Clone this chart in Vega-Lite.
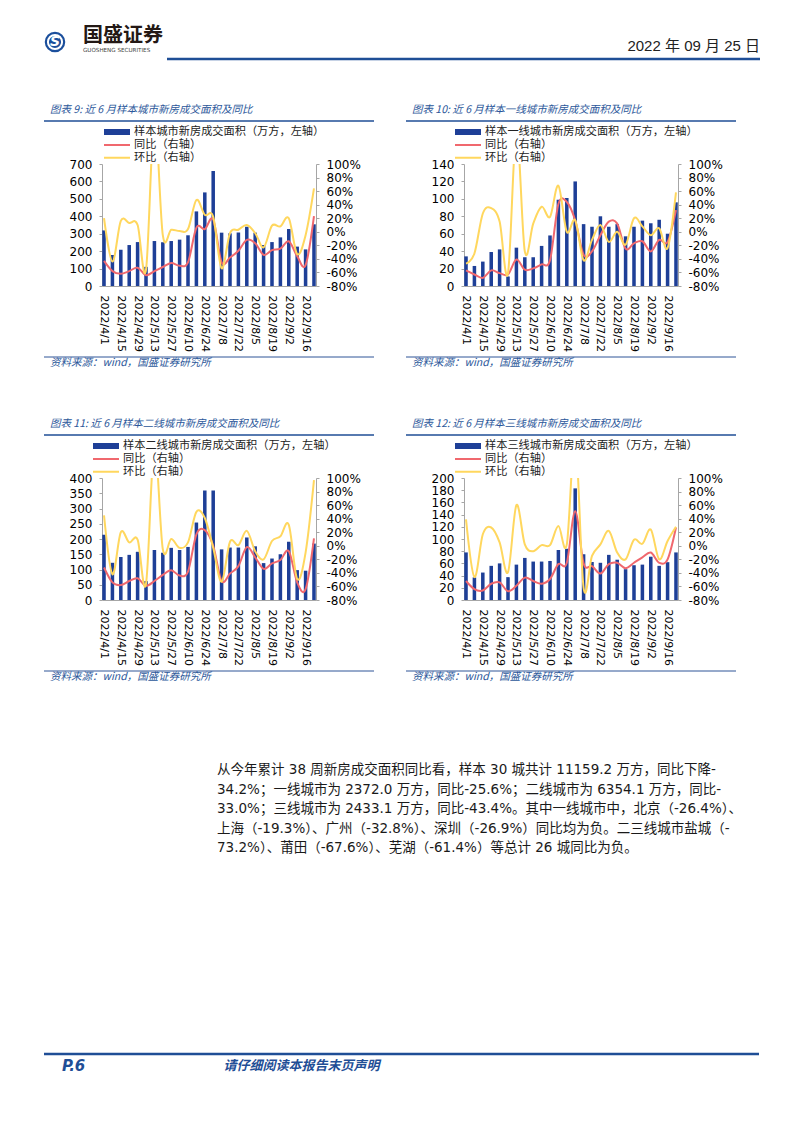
{
"$schema": "https://vega.github.io/schema/vega-lite/v6.json",
"background": "white",
"padding": {"left": 42, "top": 20, "right": 0, "bottom": 0},
"spacing": 0,
"resolve": {"scale": {"color": "independent", "stroke": "independent"}, "legend": {"color": "independent", "stroke": "independent"}},
"config": {
 "view": {"stroke": null},
 "font": "DejaVu Sans",
 "axis": {"grid": false, "domainColor": "#A6A6A6", "tickColor": "#A6A6A6", "labelColor": "#000000", "labelFont": "DejaVu Sans", "labelFontSize": 12, "tickSize": 3, "labelPadding": 7, "labelOverlap": false},
 "axisX": {"labelFontSize": 11, "labelAngle": 90, "ticks": false, "labelPadding": 9},
 "legend": {"labelFont": "Noto Sans CJK SC", "labelFontSize": 11.2, "labelColor": "#222222", "labelLimit": 400, "padding": 0, "labelOffset": 3, "clipHeight": 12},
 "title": {"font": "Noto Sans CJK SC", "fontSize": 10.5, "fontStyle": "italic", "fontWeight": "normal", "color": "#2B579A", "anchor": "start", "frame": "group"}
},
"datasets": {
 "c9": [
  {"d":"2022/4/1","area":319,"yoy":-43,"mom":20},{"d":"2022/4/8","area":178,"yoy":-58,"mom":-44},{"d":"2022/4/15","area":208,"yoy":-62,"mom":16},{"d":"2022/4/22","area":235,"yoy":-58,"mom":13},{"d":"2022/4/29","area":252,"yoy":-53,"mom":10},{"d":"2022/5/6","area":110,"yoy":-64,"mom":-56},{"d":"2022/5/13","area":258,"yoy":-58,"mom":170},{"d":"2022/5/20","area":251,"yoy":-52,"mom":-5},{"d":"2022/5/27","area":258,"yoy":-46,"mom":3},{"d":"2022/6/3","area":266,"yoy":-50,"mom":1},{"d":"2022/6/10","area":291,"yoy":-45,"mom":4},{"d":"2022/6/17","area":428,"yoy":6,"mom":47},{"d":"2022/6/24","area":537,"yoy":4,"mom":25},{"d":"2022/7/1","area":660,"yoy":18,"mom":22},{"d":"2022/7/8","area":306,"yoy":-45,"mom":-54},{"d":"2022/7/15","area":302,"yoy":-38,"mom":-2},{"d":"2022/7/22","area":307,"yoy":-28,"mom":3},{"d":"2022/7/29","area":340,"yoy":-12,"mom":10},{"d":"2022/8/5","area":306,"yoy":-17,"mom":-2},{"d":"2022/8/12","area":235,"yoy":-34,"mom":-23},{"d":"2022/8/19","area":252,"yoy":-27,"mom":9},{"d":"2022/8/26","area":279,"yoy":-25,"mom":8},{"d":"2022/9/2","area":327,"yoy":-14,"mom":20},{"d":"2022/9/9","area":226,"yoy":-36,"mom":-33},{"d":"2022/9/16","area":210,"yoy":-49,"mom":-5},{"d":"2022/9/23","area":354,"yoy":23,"mom":64}
 ],
 "c10": [
  {"d":"2022/4/1","area":34,"yoy":-57,"mom":-47},{"d":"2022/4/8","area":23,"yoy":-63,"mom":-32},{"d":"2022/4/15","area":28,"yoy":-68,"mom":27},{"d":"2022/4/22","area":39,"yoy":-57,"mom":35},{"d":"2022/4/29","area":42,"yoy":-61,"mom":15},{"d":"2022/5/6","area":11,"yoy":-63,"mom":-61},{"d":"2022/5/13","area":44,"yoy":-41,"mom":150},{"d":"2022/5/20","area":33,"yoy":-56,"mom":-29},{"d":"2022/5/27","area":33,"yoy":-54,"mom":12},{"d":"2022/6/3","area":46,"yoy":-48,"mom":37},{"d":"2022/6/10","area":58,"yoy":-42,"mom":22},{"d":"2022/6/17","area":99,"yoy":41,"mom":68},{"d":"2022/6/24","area":101,"yoy":44,"mom":0},{"d":"2022/7/1","area":120,"yoy":17,"mom":17},{"d":"2022/7/8","area":71,"yoy":-34,"mom":-42},{"d":"2022/7/15","area":68,"yoy":-29,"mom":-12},{"d":"2022/7/22","area":80,"yoy":-5,"mom":10},{"d":"2022/7/29","area":68,"yoy":15,"mom":-15},{"d":"2022/8/5","area":71,"yoy":12,"mom":0},{"d":"2022/8/12","area":57,"yoy":-25,"mom":-19},{"d":"2022/8/19","area":68,"yoy":-17,"mom":20},{"d":"2022/8/26","area":75,"yoy":-14,"mom":8},{"d":"2022/9/2","area":72,"yoy":-29,"mom":-5},{"d":"2022/9/9","area":76,"yoy":-12,"mom":5},{"d":"2022/9/16","area":60,"yoy":-15,"mom":-24},{"d":"2022/9/23","area":96,"yoy":32,"mom":58}
 ],
 "c11": [
  {"d":"2022/4/1","area":214,"yoy":-32,"mom":45},{"d":"2022/4/8","area":122,"yoy":-54,"mom":-42},{"d":"2022/4/15","area":141,"yoy":-58,"mom":20},{"d":"2022/4/22","area":148,"yoy":-52,"mom":5},{"d":"2022/4/29","area":158,"yoy":-48,"mom":9},{"d":"2022/5/6","area":62,"yoy":-59,"mom":-56},{"d":"2022/5/13","area":164,"yoy":-52,"mom":150},{"d":"2022/5/20","area":155,"yoy":-43,"mom":-5},{"d":"2022/5/27","area":171,"yoy":-36,"mom":10},{"d":"2022/6/3","area":164,"yoy":-44,"mom":-3},{"d":"2022/6/10","area":174,"yoy":-38,"mom":5},{"d":"2022/6/17","area":254,"yoy":17,"mom":50},{"d":"2022/6/24","area":359,"yoy":23,"mom":41},{"d":"2022/7/1","area":359,"yoy":0,"mom":-3},{"d":"2022/7/8","area":166,"yoy":-52,"mom":-53},{"d":"2022/7/15","area":172,"yoy":-41,"mom":6},{"d":"2022/7/22","area":172,"yoy":-30,"mom":1},{"d":"2022/7/29","area":205,"yoy":-2,"mom":22},{"d":"2022/8/5","area":176,"yoy":-17,"mom":-8},{"d":"2022/8/12","area":121,"yoy":-34,"mom":-20},{"d":"2022/8/19","area":136,"yoy":-26,"mom":7},{"d":"2022/8/26","area":150,"yoy":-21,"mom":14},{"d":"2022/9/2","area":191,"yoy":-8,"mom":31},{"d":"2022/9/9","area":98,"yoy":-54,"mom":-49},{"d":"2022/9/16","area":96,"yoy":-64,"mom":-10},{"d":"2022/9/23","area":185,"yoy":11,"mom":97}
 ],
 "c12": [
  {"d":"2022/4/1","area":78,"yoy":-52,"mom":39},{"d":"2022/4/8","area":37,"yoy":-64,"mom":-46},{"d":"2022/4/15","area":45,"yoy":-66,"mom":17},{"d":"2022/4/22","area":56,"yoy":-56,"mom":27},{"d":"2022/4/29","area":60,"yoy":-54,"mom":5},{"d":"2022/5/6","area":37.5,"yoy":-67,"mom":-39},{"d":"2022/5/13","area":58,"yoy":-59,"mom":60},{"d":"2022/5/20","area":69,"yoy":-47,"mom":2},{"d":"2022/5/27","area":63,"yoy":-52,"mom":-8},{"d":"2022/6/3","area":63,"yoy":-56,"mom":1},{"d":"2022/6/10","area":64,"yoy":-49,"mom":1},{"d":"2022/6/17","area":82,"yoy":-27,"mom":29},{"d":"2022/6/24","area":84,"yoy":-25,"mom":2},{"d":"2022/7/1","area":183,"yoy":51,"mom":160},{"d":"2022/7/8","area":75,"yoy":-26,"mom":-62},{"d":"2022/7/15","area":62.5,"yoy":-30,"mom":-15},{"d":"2022/7/22","area":61,"yoy":-41,"mom":2},{"d":"2022/7/29","area":74,"yoy":-27,"mom":22},{"d":"2022/8/5","area":66,"yoy":-25,"mom":-10},{"d":"2022/8/12","area":50.5,"yoy":-33,"mom":-20},{"d":"2022/8/19","area":57,"yoy":-25,"mom":9},{"d":"2022/8/26","area":58,"yoy":-17,"mom":3},{"d":"2022/9/2","area":71,"yoy":-10,"mom":24},{"d":"2022/9/9","area":56,"yoy":-25,"mom":-20},{"d":"2022/9/16","area":62,"yoy":-20,"mom":7},{"d":"2022/9/23","area":78,"yoy":27,"mom":28}
 ],
 "para": [
  {"line": 1, "text": "从今年累计 38 周新房成交面积同比看，样本 30 城共计 11159.2 万方，同比下降-"},
  {"line": 2, "text": "34.2%；一线城市为 2372.0 万方，同比-25.6%；二线城市为 6354.1 万方，同比-"},
  {"line": 3, "text": "33.0%；三线城市为 2433.1 万方，同比-43.4%。其中一线城市中，北京（-26.4%）、"},
  {"line": 4, "text": "上海（-19.3%）、广州（-32.8%）、深圳（-26.9%）同比均为负。二三线城市盐城（-"},
  {"line": 5, "text": "73.2%）、莆田（-67.6%）、芜湖（-61.4%）等总计 26 城同比为负。"}
 ]
},
"vconcat": [
 {"hconcat": [
   {"width": 22, "height": 44, "data": {"values": [{"k": "logo"}]},
    "layer": [
     {"mark": {"type": "point", "shape": "circle", "size": 420, "filled": true, "color": "#1B4F9C", "opacity": 1}, "encoding": {}},
     {"mark": {"type": "point", "shape": "circle", "size": 200, "filled": false, "color": "#FFFFFF", "strokeWidth": 2, "opacity": 1}, "encoding": {}},
     {"mark": {"type": "text", "text": "S", "fontSize": 14, "fontWeight": "bold", "fontStyle": "italic", "color": "#FFFFFF", "align": "center", "baseline": "middle", "font": "DejaVu Sans"}, "encoding": {}}
    ]},
   {"width": 28, "height": 36, "data": {"values": [{"k": "name"}]},
    "layer": [
     {"mark": {"type": "text", "text": "国盛证券", "align": "left", "baseline": "middle", "fontSize": 20, "dy": -2, "fontWeight": "bold", "font": "Noto Sans CJK SC", "color": "#231815"}, "encoding": {}},
     {"mark": {"type": "text", "text": "GUOSHENG SECURITIES", "align": "left", "baseline": "middle", "fontSize": 5.6, "dy": 12, "font": "DejaVu Sans", "color": "#444444"}, "encoding": {}}
    ]},
   {"width": 593, "height": 39, "data": {"values": [{"v": 0}]},
    "mark": {"type": "rule", "color": "#1F4E96", "strokeWidth": 2.5},
    "encoding": {"x": {"datum": 0, "type": "quantitative", "scale": {"domain": [0, 1]}, "axis": null}, "x2": {"datum": 1}, "y": {"field": "v", "type": "quantitative", "scale": {"domain": [0, 1]}, "axis": null}},
    "title": {"text": "2022 年 09 月 25 日", "orient": "top", "anchor": "end", "offset": -34, "fontSize": 15, "fontStyle": "normal", "color": "#222222", "font": "Liberation Sans Narrow, Liberation Sans, Noto Sans CJK SC"}}
  ], "spacing": 2},
 {"hconcat": [
   {"vconcat": [
     {"width": 330, "height": 57, "data": {"values": [{"v": 0}]},
      "mark": {"type": "rule", "color": "#1F4E96", "strokeWidth": 1.5},
      "encoding": {"x": {"datum": 0, "type": "quantitative", "scale": {"domain": [0, 1]}, "axis": null}, "x2": {"datum": 1}, "y": {"field": "v", "type": "quantitative", "scale": {"domain": [0, 1]}, "axis": null}},
      "title": {"text": "图表 9: 近 6 月样本城市新房成交面积及同比", "offset": -51, "dx": 6}},
     {"width": 214, "height": 122, "data": {"name": "c9"},
      "encoding": {"x": {"field": "d", "type": "ordinal", "sort": null, "scale": {"paddingInner": 0.58, "paddingOuter": 0.03}, "axis": {"title": null, "values": ["2022/4/1","2022/4/15","2022/4/29","2022/5/13","2022/5/27","2022/6/10","2022/6/24","2022/7/8","2022/7/22","2022/8/5","2022/8/19","2022/9/2","2022/9/16"]}}},
      "layer": [
       {"mark": {"type": "bar"},
        "encoding": {
         "y": {"field": "area", "type": "quantitative", "scale": {"domain": [0, 700], "nice": false}, "axis": {"title": null, "values": [0,100,200,300,400,500,600,700]}},
         "color": {"datum": "样本城市新房成交面积（万方，左轴）", "type": "nominal", "scale": {"range": ["#1E3F97"]}, "legend": {"title": null, "orient": "none", "legendX": 1, "legendY": -38, "symbolType": "M-1,-0.23H1V0.23H-1Z", "symbolSize": 676}}}},
       {"layer": [
         {"mark": {"type": "line", "interpolate": "cardinal", "strokeWidth": 2, "clip": true},
          "encoding": {
           "y": {"field": "yoy", "type": "quantitative", "scale": {"domain": [-80, 100], "nice": false}, "axis": {"orient": "right", "title": null, "labelOverlap": false, "labelBound": false, "values": [-80,-60,-40,-20,0,20,40,60,80,100], "labelExpr": "datum.value + '%'"}},
           "stroke": {"datum": "同比（右轴）", "type": "nominal", "scale": {"domain": ["同比（右轴）", "环比（右轴）"], "range": ["#F0686E", "#FFD75E"]}, "legend": {"title": null, "orient": "none", "legendX": 1, "legendY": -25, "symbolType": "stroke", "symbolSize": 676, "symbolStrokeWidth": 2, "rowPadding": 0.8}}}},
         {"mark": {"type": "line", "interpolate": "cardinal", "strokeWidth": 2, "clip": true},
          "encoding": {"y": {"field": "mom", "type": "quantitative", "axis": {"orient": "right", "title": null, "labelOverlap": false, "labelBound": false, "values": [-80,-60,-40,-20,0,20,40,60,80,100], "labelExpr": "datum.value + '%'"}}, "stroke": {"datum": "环比（右轴）", "type": "nominal"}}}
       ]}
      ],
      "resolve": {"scale": {"y": "independent"}}},
     {"width": 330, "height": 28, "data": {"values": [{"v": 0}]},
      "mark": {"type": "rule", "color": "#2F5597", "strokeWidth": 1},
      "encoding": {"x": {"datum": 0, "type": "quantitative", "scale": {"domain": [0, 1]}, "axis": null}, "x2": {"datum": 1}, "y": {"field": "v", "type": "quantitative", "scale": {"domain": [0, 1]}, "axis": null}},
      "title": {"text": "资料来源：wind，国盛证券研究所", "orient": "bottom", "offset": 0, "dx": 6}}
    ], "spacing": 43, "bounds": "flush", "center": true,
    "resolve": {"scale": {"color": "independent", "stroke": "independent"}, "legend": {"color": "independent", "stroke": "independent"}}},
   {"vconcat": [
     {"width": 330, "height": 57, "data": {"values": [{"v": 0}]},
      "mark": {"type": "rule", "color": "#1F4E96", "strokeWidth": 1.5},
      "encoding": {"x": {"datum": 0, "type": "quantitative", "scale": {"domain": [0, 1]}, "axis": null}, "x2": {"datum": 1}, "y": {"field": "v", "type": "quantitative", "scale": {"domain": [0, 1]}, "axis": null}},
      "title": {"text": "图表 10: 近 6 月样本一线城市新房成交面积及同比", "offset": -51, "dx": 6}},
     {"width": 214, "height": 122, "data": {"name": "c10"},
      "encoding": {"x": {"field": "d", "type": "ordinal", "sort": null, "scale": {"paddingInner": 0.58, "paddingOuter": 0.03}, "axis": {"title": null, "values": ["2022/4/1","2022/4/15","2022/4/29","2022/5/13","2022/5/27","2022/6/10","2022/6/24","2022/7/8","2022/7/22","2022/8/5","2022/8/19","2022/9/2","2022/9/16"]}}},
      "layer": [
       {"mark": {"type": "bar"},
        "encoding": {
         "y": {"field": "area", "type": "quantitative", "scale": {"domain": [0, 140], "nice": false}, "axis": {"title": null, "values": [0,20,40,60,80,100,120,140]}},
         "color": {"datum": "样本一线城市新房成交面积（万方，左轴）", "type": "nominal", "scale": {"range": ["#1E3F97"]}, "legend": {"title": null, "orient": "none", "legendX": -10, "legendY": -38, "symbolType": "M-1,-0.23H1V0.23H-1Z", "symbolSize": 676}}}},
       {"layer": [
         {"mark": {"type": "line", "interpolate": "cardinal", "strokeWidth": 2, "clip": true},
          "encoding": {
           "y": {"field": "yoy", "type": "quantitative", "scale": {"domain": [-80, 100], "nice": false}, "axis": {"orient": "right", "title": null, "labelOverlap": false, "labelBound": false, "values": [-80,-60,-40,-20,0,20,40,60,80,100], "labelExpr": "datum.value + '%'"}},
           "stroke": {"datum": "同比（右轴）", "type": "nominal", "scale": {"domain": ["同比（右轴）", "环比（右轴）"], "range": ["#F0686E", "#FFD75E"]}, "legend": {"title": null, "orient": "none", "legendX": -10, "legendY": -25, "symbolType": "stroke", "symbolSize": 676, "symbolStrokeWidth": 2, "rowPadding": 0.8}}}},
         {"mark": {"type": "line", "interpolate": "cardinal", "strokeWidth": 2, "clip": true},
          "encoding": {"y": {"field": "mom", "type": "quantitative", "axis": {"orient": "right", "title": null, "labelOverlap": false, "labelBound": false, "values": [-80,-60,-40,-20,0,20,40,60,80,100], "labelExpr": "datum.value + '%'"}}, "stroke": {"datum": "环比（右轴）", "type": "nominal"}}}
       ]}
      ],
      "resolve": {"scale": {"y": "independent"}}},
     {"width": 330, "height": 28, "data": {"values": [{"v": 0}]},
      "mark": {"type": "rule", "color": "#2F5597", "strokeWidth": 1},
      "encoding": {"x": {"datum": 0, "type": "quantitative", "scale": {"domain": [0, 1]}, "axis": null}, "x2": {"datum": 1}, "y": {"field": "v", "type": "quantitative", "scale": {"domain": [0, 1]}, "axis": null}},
      "title": {"text": "资料来源：wind，国盛证券研究所", "orient": "bottom", "offset": 0, "dx": 6}}
    ], "spacing": 43, "bounds": "flush", "center": true,
    "resolve": {"scale": {"color": "independent", "stroke": "independent"}, "legend": {"color": "independent", "stroke": "independent"}}}
  ], "spacing": 30,
  "resolve": {"scale": {"color": "independent", "stroke": "independent"}, "legend": {"color": "independent", "stroke": "independent"}}},
 {"hconcat": [
   {"vconcat": [
     {"width": 330, "height": 67, "data": {"values": [{"v": 0}]},
      "mark": {"type": "rule", "color": "#1F4E96", "strokeWidth": 1.5},
      "encoding": {"x": {"datum": 0, "type": "quantitative", "scale": {"domain": [0, 1]}, "axis": null}, "x2": {"datum": 1}, "y": {"field": "v", "type": "quantitative", "scale": {"domain": [0, 1]}, "axis": null}},
      "title": {"text": "图表 11: 近 6 月样本二线城市新房成交面积及同比", "offset": -61, "dx": 6}},
     {"width": 214, "height": 122, "data": {"name": "c11"},
      "encoding": {"x": {"field": "d", "type": "ordinal", "sort": null, "scale": {"paddingInner": 0.58, "paddingOuter": 0.03}, "axis": {"title": null, "values": ["2022/4/1","2022/4/15","2022/4/29","2022/5/13","2022/5/27","2022/6/10","2022/6/24","2022/7/8","2022/7/22","2022/8/5","2022/8/19","2022/9/2","2022/9/16"]}}},
      "layer": [
       {"mark": {"type": "bar"},
        "encoding": {
         "y": {"field": "area", "type": "quantitative", "scale": {"domain": [0, 400], "nice": false}, "axis": {"title": null, "values": [0,50,100,150,200,250,300,350,400]}},
         "color": {"datum": "样本二线城市新房成交面积（万方，左轴）", "type": "nominal", "scale": {"range": ["#1E3F97"]}, "legend": {"title": null, "orient": "none", "legendX": -10, "legendY": -38, "symbolType": "M-1,-0.23H1V0.23H-1Z", "symbolSize": 676}}}},
       {"layer": [
         {"mark": {"type": "line", "interpolate": "cardinal", "strokeWidth": 2, "clip": true},
          "encoding": {
           "y": {"field": "yoy", "type": "quantitative", "scale": {"domain": [-80, 100], "nice": false}, "axis": {"orient": "right", "title": null, "labelOverlap": false, "labelBound": false, "values": [-80,-60,-40,-20,0,20,40,60,80,100], "labelExpr": "datum.value + '%'"}},
           "stroke": {"datum": "同比（右轴）", "type": "nominal", "scale": {"domain": ["同比（右轴）", "环比（右轴）"], "range": ["#F0686E", "#FFD75E"]}, "legend": {"title": null, "orient": "none", "legendX": -10, "legendY": -25, "symbolType": "stroke", "symbolSize": 676, "symbolStrokeWidth": 2, "rowPadding": 0.8}}}},
         {"mark": {"type": "line", "interpolate": "cardinal", "strokeWidth": 2, "clip": true},
          "encoding": {"y": {"field": "mom", "type": "quantitative", "axis": {"orient": "right", "title": null, "labelOverlap": false, "labelBound": false, "values": [-80,-60,-40,-20,0,20,40,60,80,100], "labelExpr": "datum.value + '%'"}}, "stroke": {"datum": "环比（右轴）", "type": "nominal"}}}
       ]}
      ],
      "resolve": {"scale": {"y": "independent"}}},
     {"width": 330, "height": 28, "data": {"values": [{"v": 0}]},
      "mark": {"type": "rule", "color": "#2F5597", "strokeWidth": 1},
      "encoding": {"x": {"datum": 0, "type": "quantitative", "scale": {"domain": [0, 1]}, "axis": null}, "x2": {"datum": 1}, "y": {"field": "v", "type": "quantitative", "scale": {"domain": [0, 1]}, "axis": null}},
      "title": {"text": "资料来源：wind，国盛证券研究所", "orient": "bottom", "offset": 0, "dx": 6}}
    ], "spacing": 43, "bounds": "flush", "center": true,
    "resolve": {"scale": {"color": "independent", "stroke": "independent"}, "legend": {"color": "independent", "stroke": "independent"}}},
   {"vconcat": [
     {"width": 330, "height": 67, "data": {"values": [{"v": 0}]},
      "mark": {"type": "rule", "color": "#1F4E96", "strokeWidth": 1.5},
      "encoding": {"x": {"datum": 0, "type": "quantitative", "scale": {"domain": [0, 1]}, "axis": null}, "x2": {"datum": 1}, "y": {"field": "v", "type": "quantitative", "scale": {"domain": [0, 1]}, "axis": null}},
      "title": {"text": "图表 12: 近 6 月样本三线城市新房成交面积及同比", "offset": -61, "dx": 6}},
     {"width": 214, "height": 122, "data": {"name": "c12"},
      "encoding": {"x": {"field": "d", "type": "ordinal", "sort": null, "scale": {"paddingInner": 0.58, "paddingOuter": 0.03}, "axis": {"title": null, "values": ["2022/4/1","2022/4/15","2022/4/29","2022/5/13","2022/5/27","2022/6/10","2022/6/24","2022/7/8","2022/7/22","2022/8/5","2022/8/19","2022/9/2","2022/9/16"]}}},
      "layer": [
       {"mark": {"type": "bar"},
        "encoding": {
         "y": {"field": "area", "type": "quantitative", "scale": {"domain": [0, 200], "nice": false}, "axis": {"title": null, "values": [0,20,40,60,80,100,120,140,160,180,200]}},
         "color": {"datum": "样本三线城市新房成交面积（万方，左轴）", "type": "nominal", "scale": {"range": ["#1E3F97"]}, "legend": {"title": null, "orient": "none", "legendX": -10, "legendY": -38, "symbolType": "M-1,-0.23H1V0.23H-1Z", "symbolSize": 676}}}},
       {"layer": [
         {"mark": {"type": "line", "interpolate": "cardinal", "strokeWidth": 2, "clip": true},
          "encoding": {
           "y": {"field": "yoy", "type": "quantitative", "scale": {"domain": [-80, 100], "nice": false}, "axis": {"orient": "right", "title": null, "labelOverlap": false, "labelBound": false, "values": [-80,-60,-40,-20,0,20,40,60,80,100], "labelExpr": "datum.value + '%'"}},
           "stroke": {"datum": "同比（右轴）", "type": "nominal", "scale": {"domain": ["同比（右轴）", "环比（右轴）"], "range": ["#F0686E", "#FFD75E"]}, "legend": {"title": null, "orient": "none", "legendX": -10, "legendY": -25, "symbolType": "stroke", "symbolSize": 676, "symbolStrokeWidth": 2, "rowPadding": 0.8}}}},
         {"mark": {"type": "line", "interpolate": "cardinal", "strokeWidth": 2, "clip": true},
          "encoding": {"y": {"field": "mom", "type": "quantitative", "axis": {"orient": "right", "title": null, "labelOverlap": false, "labelBound": false, "values": [-80,-60,-40,-20,0,20,40,60,80,100], "labelExpr": "datum.value + '%'"}}, "stroke": {"datum": "环比（右轴）", "type": "nominal"}}}
       ]}
      ],
      "resolve": {"scale": {"y": "independent"}}},
     {"width": 330, "height": 28, "data": {"values": [{"v": 0}]},
      "mark": {"type": "rule", "color": "#2F5597", "strokeWidth": 1},
      "encoding": {"x": {"datum": 0, "type": "quantitative", "scale": {"domain": [0, 1]}, "axis": null}, "x2": {"datum": 1}, "y": {"field": "v", "type": "quantitative", "scale": {"domain": [0, 1]}, "axis": null}},
      "title": {"text": "资料来源：wind，国盛证券研究所", "orient": "bottom", "offset": 0, "dx": 6}}
    ], "spacing": 43, "bounds": "flush", "center": true,
    "resolve": {"scale": {"color": "independent", "stroke": "independent"}, "legend": {"color": "independent", "stroke": "independent"}}}
  ], "spacing": 30,
  "resolve": {"scale": {"color": "independent", "stroke": "independent"}, "legend": {"color": "independent", "stroke": "independent"}}},
 {"width": 346, "height": 370, "data": {"name": "para"},
  "mark": {"type": "text", "align": "left", "baseline": "middle", "fontSize": 13.5, "font": "DejaVu Sans, Noto Sans CJK SC", "color": "#1A1A1A"},
  "encoding": {"y": {"field": "line", "type": "quantitative", "scale": {"domain": [-3.513, 15.46], "reverse": true, "nice": false, "zero": false}, "axis": null}, "text": {"field": "text"}}},
 {"width": 715, "height": 20,
  "title": {"text": "P.6", "orient": "bottom", "offset": -15.5, "dx": 18, "fontSize": 15, "fontWeight": "bold", "fontStyle": "italic", "color": "#1F4E96", "font": "DejaVu Sans"},
  "layer": [
   {"data": {"values": [{"v": 0}]}, "mark": {"type": "rule", "color": "#1F4E96", "strokeWidth": 2.5}, "encoding": {"x": {"datum": 0, "type": "quantitative", "scale": {"domain": [0, 1]}, "axis": null}, "x2": {"datum": 1}, "y": {"field": "v", "type": "quantitative", "scale": {"domain": [0, 1], "reverse": true}, "axis": null}}},
   {"data": {"values": [{"t": "请仔细阅读本报告末页声明"}]}, "mark": {"type": "text", "fontSize": 13, "fontWeight": "bold", "fontStyle": "italic", "color": "#1F4E96", "font": "Noto Sans CJK SC", "dx": -100, "dy": 2, "baseline": "middle", "align": "center"}, "encoding": {"text": {"field": "t"}}}
  ]}
]
}
